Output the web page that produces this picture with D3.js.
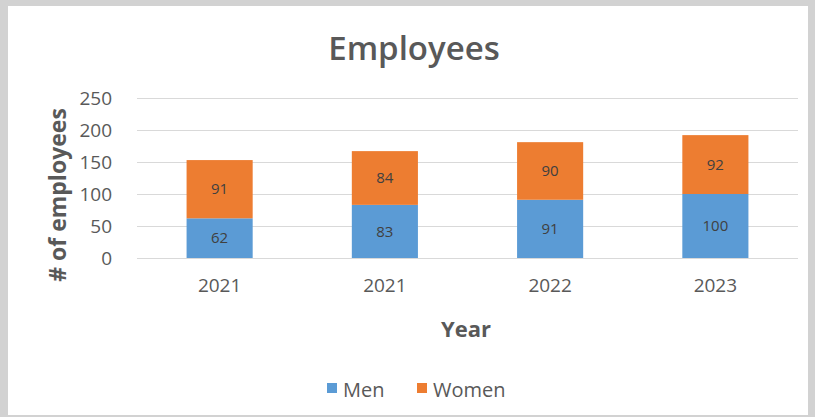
<!DOCTYPE html>
<html>
<head>
<meta charset="utf-8">
<script src="https://cdn.jsdelivr.net/npm/d3@7"></script>
<style>
  html, body { margin: 0; padding: 0; background: #d2d2d2; }
  svg { display: block; }
  text { font-family: "Open Sans", sans-serif; fill: #595959; }
</style>
</head>
<body>
<svg id="chart" width="815" height="417"></svg>
<script>
// Chart data
const years = ["2021", "2021", "2022", "2023"];
const men = [62, 83, 91, 100];
const women = [91, 84, 90, 92];
const seriesNames = ["Men", "Women"];
const seriesColors = ["#5b9bd5", "#ed7d31"];
const yTicks = [0, 50, 100, 150, 200, 250];

const svg = d3.select("#chart");

// white chart panel inside the grey frame
svg.append("rect").attr("x", 8).attr("y", 6).attr("width", 800).attr("height", 409)
  .attr("fill", "#ffffff");

const plot = { left: 137, right: 798, top: 98, bottom: 258 };

const x = d3.scaleBand()
  .domain(d3.range(years.length))
  .range([plot.left, plot.right])
  .paddingInner(0.6)
  .paddingOuter(0.3);

const y = d3.scaleLinear().domain([0, 250]).range([plot.bottom, plot.top]);

// gridlines
svg.append("g").selectAll("line").data(yTicks).join("line")
  .attr("x1", plot.left).attr("x2", plot.right)
  .attr("y1", d => Math.round(y(d)) + 0.5).attr("y2", d => Math.round(y(d)) + 0.5)
  .attr("stroke", "#d9d9d9").attr("stroke-width", 1);

// y axis labels
const yAxis = d3.axisLeft(y).tickValues(yTicks).tickSize(0).tickPadding(0);
const gy = svg.append("g").attr("transform", `translate(112,0)`).call(yAxis);
gy.select(".domain").remove();
gy.selectAll("text").style("font-size", "19px").attr("fill", "#595959")
  .attr("font-family", "Open Sans, sans-serif");

// x axis labels
const xAxis = d3.axisBottom(x).tickFormat(i => years[i]).tickSize(0).tickPadding(0);
const gx = svg.append("g").attr("transform", `translate(0,${plot.bottom + 20})`).call(xAxis);
gx.select(".domain").remove();
gx.selectAll("text").style("font-size", "19px").attr("fill", "#595959")
  .attr("font-family", "Open Sans, sans-serif");

// stacked bars
const rows = years.map((yr, i) => ({ i, Men: men[i], Women: women[i] }));
const stack = d3.stack().keys(seriesNames)(rows);

const layers = svg.append("g").selectAll("g").data(stack).join("g")
  .attr("fill", (d, k) => seriesColors[k]);

layers.selectAll("rect").data(d => d).join("rect")
  .attr("x", d => x(d.data.i))
  .attr("width", x.bandwidth())
  .attr("y", d => y(d[1]))
  .attr("height", d => y(d[0]) - y(d[1]));

// value labels in the middle of each segment
layers.selectAll("text").data((d, k) => d.map(v => ({ v, key: seriesNames[k] }))).join("text")
  .attr("x", d => x(d.v.data.i) + x.bandwidth() / 2)
  .attr("y", d => y((d.v[0] + d.v[1]) / 2))
  .attr("dy", "0.35em")
  .attr("text-anchor", "middle")
  .style("font-size", "15px")
  .style("fill", "#404040")
  .text(d => d.v.data[d.key]);

// title
svg.append("text").attr("x", 414).attr("y", 60).attr("text-anchor", "middle")
  .style("font-size", "33px").style("font-weight", 600).text("Employees");

// axis titles
svg.append("text").attr("x", 466).attr("y", 337).attr("text-anchor", "middle")
  .style("font-size", "22px").style("font-weight", 700).text("Year");

svg.append("text")
  .attr("transform", `translate(66,195) rotate(-90)`)
  .attr("text-anchor", "middle")
  .style("font-size", "23px").style("font-weight", 700).text("# of employees");

// legend
const legend = svg.append("g").attr("transform", "translate(327,397)");
const items = [{ name: seriesNames[0], color: seriesColors[0], dx: 0 },
               { name: seriesNames[1], color: seriesColors[1], dx: 90 }];
const li = legend.selectAll("g").data(items).join("g")
  .attr("transform", d => `translate(${d.dx},0)`);
li.append("rect").attr("x", 0).attr("y", -14).attr("width", 10).attr("height", 10)
  .attr("fill", d => d.color);
li.append("text").attr("x", 16).attr("y", 0).style("font-size", "20px").text(d => d.name);
</script>
</body>
</html>
